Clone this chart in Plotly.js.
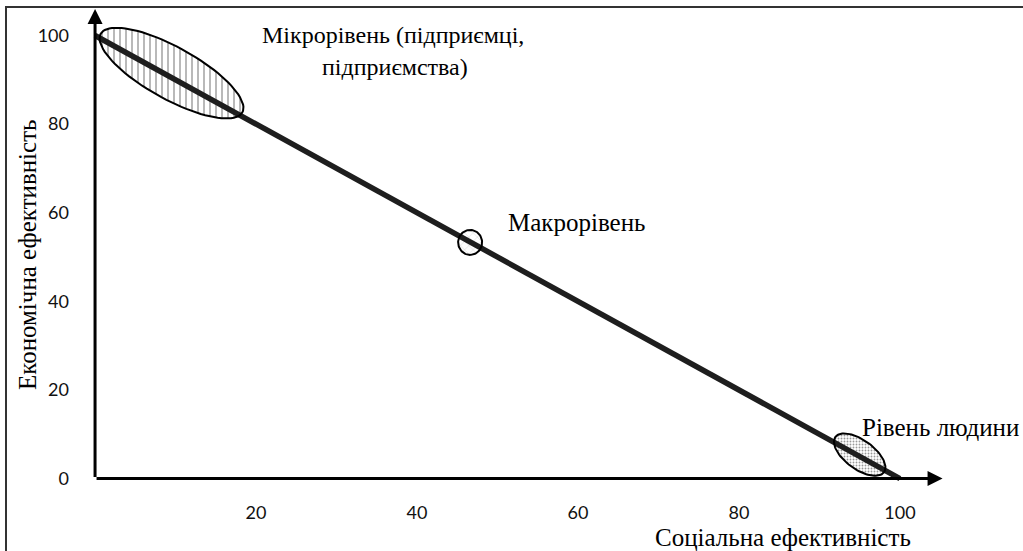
<!DOCTYPE html>
<html><head><meta charset="utf-8">
<script src="https://cdn.plot.ly/plotly-3.0.1.min.js"></script>
<style>html,body{margin:0;padding:0;background:#fff}#chart{width:1023px;height:551px}</style>
</head><body><div id="chart"></div>
<script>
// ---- data ----
const frontierX = [0, 100];          // Соціальна ефективність
const frontierY = [100, 0];          // Економічна ефективність
const levelNames = ["Мікрорівень", "Макрорівень", "Рівень людини"];
const levelX = [9.5, 46.6, 95.0];
const levelY = [91.5, 53.3, 5.4];
const xTickVals = [20, 40, 60, 80, 100];
const xTickText = ["20", "40", "60", "80", "100"];
const yTickVals = [0, 20, 40, 60, 80, 100];
const yTickText = ["0", "20", "40", "60", "80", "100"];
const xTitle = "Соціальна ефективність";
const yTitle = "Економічна ефективність";
const microLabel = ["Мікрорівень (підприємці,", "підприємства)"];
const macroLabel = "Макрорівень";
const humanLabel = "Рівень людини";

// ---- layout geometry ----
const W = 1023, H = 551;
const M = {l: 87, r: 78, t: 8, b: 68};
const xr = [-1, 105.6], yr = [-1, 106.2];
const sx = (W - M.l - M.r) / (xr[1] - xr[0]);
const sy = (H - M.t - M.b) / (yr[1] - yr[0]);
const paperX = p => (p - M.l) / (W - M.l - M.r);
const paperY = p => (H - M.b - p) / (H - M.t - M.b);

// ellipse outline (a, b in px, angle in degrees, screen orientation)
function ellipse(cx, cy, a, b, angDeg) {
  const th = angDeg * Math.PI / 180, xs = [], ys = [];
  for (let i = 0; i <= 90; i++) {
    const t = 2 * Math.PI * i / 90;
    const px = a * Math.cos(t) * Math.cos(th) - b * Math.sin(t) * Math.sin(th);
    const py = a * Math.cos(t) * Math.sin(th) + b * Math.sin(t) * Math.cos(th);
    xs.push(cx + px / sx); ys.push(cy - py / sy);
  }
  return {x: xs, y: ys};
}
const ellA = [81, 12.5, 30], ellB = [26, 12, 14.5], ellAng = [29, 90, 36];
const patterns = [
  {shape: '|', size: 6, solidity: 0.2, fgcolor: '#8a8a8a', bgcolor: 'rgba(255,255,255,0)'},
  {shape: 'x', size: 6, solidity: 0.12, fgcolor: '#c4c4c4', bgcolor: 'rgba(255,255,255,0)'},
  {shape: '.', size: 3, solidity: 0.3, fgcolor: '#999999', bgcolor: 'rgba(255,255,255,0)'}
];

const traces = [];
levelNames.forEach((n, i) => {
  const e = ellipse(levelX[i], levelY[i], ellA[i], ellB[i], ellAng[i]);
  traces.push({type: 'scatter', mode: 'lines', name: n, x: e.x, y: e.y,
    fill: 'toself', fillcolor: 'rgba(255,255,255,0)', fillpattern: patterns[i],
    line: {color: 'rgba(0,0,0,0)', width: 0}, hoverinfo: 'skip', showlegend: false});
});
traces.push({type: 'scatter', mode: 'lines', x: frontierX, y: frontierY,
  line: {color: '#1e1e1e', width: 5.5}, showlegend: false, cliponaxis: false});
levelNames.forEach((n, i) => {
  const e = ellipse(levelX[i], levelY[i], ellA[i], ellB[i], ellAng[i]);
  traces.push({type: 'scatter', mode: 'lines', name: n, x: e.x, y: e.y,
    line: {color: '#000', width: 2}, hoverinfo: 'skip', showlegend: false});
});

const serif = {family: 'Liberation Serif, Times New Roman, serif', size: 25, color: '#000'};
const serifM = {family: 'Liberation Serif, Times New Roman, serif', size: 24, color: '#000'};
const annotations = [
  // axes with arrows
  {x: 105.3, y: 0, ax: 0, ay: 0, xref: 'x', yref: 'y', axref: 'x', ayref: 'y', text: '',
   showarrow: true, arrowhead: 2, arrowsize: 1, arrowwidth: 3, arrowcolor: '#000'},
  {x: 0, y: 106, ax: 0, ay: 0, xref: 'x', yref: 'y', axref: 'x', ayref: 'y', text: '',
   showarrow: true, arrowhead: 2, arrowsize: 1, arrowwidth: 3, arrowcolor: '#000'},
  {xref: 'paper', yref: 'paper', x: paperX(393), y: paperY(35), text: microLabel[0], showarrow: false, font: serifM, xanchor: 'center', yanchor: 'middle'},
  {xref: 'paper', yref: 'paper', x: paperX(395), y: paperY(67), text: microLabel[1], showarrow: false, font: serifM, xanchor: 'center', yanchor: 'middle'},
  {xref: 'paper', yref: 'paper', x: paperX(576), y: paperY(222), text: macroLabel, showarrow: false, font: serif, xanchor: 'center', yanchor: 'middle'},
  {xref: 'paper', yref: 'paper', x: paperX(940), y: paperY(427), text: humanLabel, showarrow: false, font: serif, xanchor: 'center', yanchor: 'middle'},
  {xref: 'paper', yref: 'paper', x: paperX(783), y: paperY(537), text: xTitle, showarrow: false, font: serif, xanchor: 'center', yanchor: 'middle'},
  {xref: 'paper', yref: 'paper', x: paperX(27), y: paperY(255), text: yTitle, showarrow: false, font: serif, textangle: -90, xanchor: 'center', yanchor: 'middle'}
];

const tickFont = {family: 'Lato, Open Sans, sans-serif', size: 18, color: '#111'};
const layout = {
  width: W, height: H, margin: M, paper_bgcolor: '#fff', plot_bgcolor: '#fff',
  showlegend: false,
  xaxis: {range: xr, showgrid: false, zeroline: false, showline: false, ticks: '',
    tickmode: 'array', tickvals: xTickVals, ticktext: xTickText, tickfont: tickFont, ticklabelstandoff: 17},
  yaxis: {range: yr, showgrid: false, zeroline: false, showline: false, ticks: '',
    tickmode: 'array', tickvals: yTickVals, ticktext: yTickText, tickfont: tickFont, ticklabelstandoff: 17},
  shapes: [{type: 'rect', xref: 'paper', yref: 'paper', x0: paperX(6), x1: paperX(1035), y0: paperY(570), y1: paperY(7),
    line: {color: '#333', width: 2}, fillcolor: 'rgba(0,0,0,0)'}],
  annotations: annotations
};
Plotly.newPlot('chart', traces, layout, {staticPlot: true});
</script></body></html>
